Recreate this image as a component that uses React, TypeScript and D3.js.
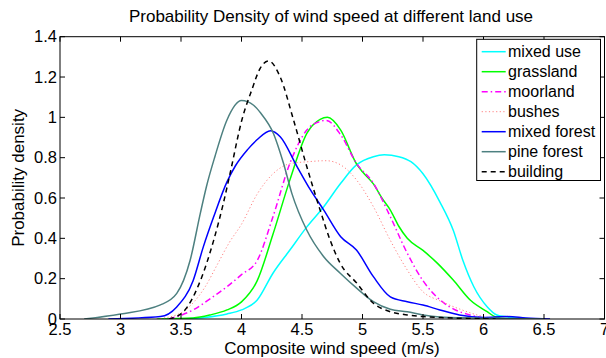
import React from "react";
import * as d3 from "d3";

const titleText = "Probability Density of wind speed at different land use";
const xLabel = "Composite wind speed (m/s)";
const yLabel = "Probability density";
const xTicks = [2.5, 3, 3.5, 4, 4.5, 5, 5.5, 6, 6.5, 7];
const yTicks = [0, 0.2, 0.4, 0.6, 0.8, 1, 1.2, 1.4];

const mixedUseX = [3.5, 3.7, 3.88, 4.0, 4.13, 4.26, 4.4, 4.54, 4.68, 4.82, 4.95, 5.09, 5.18, 5.3, 5.4, 5.5, 5.64, 5.75, 5.83, 5.92, 6.03, 6.11, 6.2, 6.4];
const mixedUseY = [0, 0.008, 0.025, 0.045, 0.094, 0.227, 0.342, 0.457, 0.557, 0.673, 0.764, 0.805, 0.814, 0.805, 0.78, 0.72, 0.58, 0.44, 0.29, 0.16, 0.061, 0.02, 0.01, 0];

const grasslandX = [3.3, 3.6, 3.74, 3.88, 4.0, 4.13, 4.26, 4.4, 4.54, 4.65, 4.71, 4.82, 4.95, 5.0, 5.09, 5.16, 5.23, 5.3, 5.37, 5.5, 5.62, 5.75, 5.89, 6.03, 6.1, 6.2];
const grasslandY = [0, 0.005, 0.02, 0.045, 0.085, 0.19, 0.42, 0.69, 0.92, 0.99, 1.0, 0.937, 0.77, 0.73, 0.67, 0.6, 0.54, 0.46, 0.4, 0.34, 0.276, 0.193, 0.094, 0.036, 0.01, 0];

const moorlandX = [3.4, 3.6, 3.74, 3.88, 4.0, 4.13, 4.26, 4.4, 4.54, 4.65, 4.7, 4.82, 4.95, 5.09, 5.23, 5.37, 5.5, 5.64, 5.75, 5.89, 6.05];
const moorlandY = [0, 0.045, 0.1, 0.16, 0.22, 0.29, 0.507, 0.772, 0.937, 0.98, 0.985, 0.913, 0.772, 0.673, 0.507, 0.326, 0.19, 0.095, 0.05, 0.02, 0];

const bushesX = [3.3, 3.5, 3.6, 3.7, 3.8, 3.9, 4.0, 4.13, 4.26, 4.4, 4.55, 4.7, 4.82, 4.95, 5.09, 5.23, 5.37, 5.5, 5.64, 5.8, 6.0, 6.15];
const bushesY = [0, 0.03, 0.08, 0.16, 0.27, 0.38, 0.47, 0.62, 0.72, 0.77, 0.78, 0.785, 0.764, 0.69, 0.557, 0.39, 0.243, 0.135, 0.09, 0.05, 0.012, 0];

const mixedForestX = [2.9, 3.33, 3.465, 3.6, 3.685, 3.77, 3.88, 3.95, 4.05, 4.13, 4.24, 4.32, 4.46, 4.57, 4.68, 4.82, 4.95, 5.09, 5.23, 5.37, 5.5, 5.64, 5.8, 6.0, 6.2, 6.35, 6.55];
const mixedForestY = [0, 0.012, 0.06, 0.19, 0.359, 0.507, 0.68, 0.76, 0.84, 0.89, 0.934, 0.904, 0.755, 0.64, 0.54, 0.408, 0.342, 0.21, 0.11, 0.086, 0.069, 0.045, 0.02, 0.008, 0.012, 0.005, 0];

const pineForestX = [2.7, 3.0, 3.33, 3.465, 3.575, 3.66, 3.71, 3.78, 3.88, 4.0, 4.1, 4.16, 4.264, 4.347, 4.416, 4.54, 4.678, 4.816, 4.954, 5.09, 5.23, 5.37, 5.5, 5.64, 5.9, 6.2, 6.5];
const pineForestY = [0, 0.025, 0.07, 0.127, 0.29, 0.525, 0.656, 0.805, 0.987, 1.083, 1.06, 1.02, 0.92, 0.772, 0.623, 0.44, 0.31, 0.227, 0.152, 0.086, 0.048, 0.036, 0.02, 0.01, 0.005, 0.003, 0];

const buildingX = [3.4, 3.52, 3.66, 3.77, 3.85, 3.906, 4.003, 4.085, 4.154, 4.223, 4.32, 4.43, 4.54, 4.65, 4.733, 4.816, 4.954, 5.09, 5.23, 5.37, 5.5, 5.7, 6.1];
const buildingY = [0, 0.036, 0.19, 0.39, 0.574, 0.723, 0.987, 1.136, 1.243, 1.28, 1.2, 0.987, 0.755, 0.54, 0.39, 0.276, 0.177, 0.078, 0.036, 0.02, 0.012, 0.006, 0];

const seriesNames = ["mixed use", "grassland", "moorland", "bushes", "mixed forest", "pine forest", "building"];

export default function App() {
  const W = 606, H = 358;
  const m = { left: 60, right: 604.5, top: 36.7, bottom: 319 };
  const x = d3.scaleLinear().domain([2.5, 7]).range([m.left, m.right]);
  const y = d3.scaleLinear().domain([0, 1.4]).range([m.bottom, m.top]);
  const font = "'Liberation Sans', Arial, Helvetica, sans-serif";
  const fs = 17;
  const tfs = 16.5;

  const series = [
    { name: seriesNames[0], xs: mixedUseX, ys: mixedUseY, color: "#00ffff", dash: undefined, w: 1.5 },
    { name: seriesNames[1], xs: grasslandX, ys: grasslandY, color: "#00ff00", dash: undefined, w: 1.5 },
    { name: seriesNames[2], xs: moorlandX, ys: moorlandY, color: "#ff00ff", dash: "6,3,1.5,3", w: 1.5 },
    { name: seriesNames[3], xs: bushesX, ys: bushesY, color: "#ff8080", dash: "1.2,2.4", w: 1 },
    { name: seriesNames[4], xs: mixedForestX, ys: mixedForestY, color: "#0000ff", dash: undefined, w: 1.5 },
    { name: seriesNames[5], xs: pineForestX, ys: pineForestY, color: "#4d8080", dash: undefined, w: 1.5 },
    { name: seriesNames[6], xs: buildingX, ys: buildingY, color: "#000000", dash: "5,4", w: 1.5 },
  ];

  const line = d3
    .line<[number, number]>()
    .x((d) => x(d[0]))
    .y((d) => y(d[1]))
    .curve(d3.curveMonotoneX);

  const tl = 5;
  const legX = 476.7, legY = 39.3, legW = 123.8, legH = 141.2;

  return (
    <svg width={W} height={H} style={{ position: "absolute", left: 0, top: 0, background: "#fff" }} fontFamily={font}>
      <rect x={0} y={0} width={W} height={H} fill="#fff" />
      <defs>
        <clipPath id="plotclip">
          <rect x={m.left} y={m.top} width={m.right - m.left} height={m.bottom - m.top} />
        </clipPath>
      </defs>
      <g clipPath="url(#plotclip)">
        {series.map((s) => (
          <path
            key={s.name}
            d={line(s.xs.map((v, i) => [v, s.ys[i]] as [number, number])) || ""}
            fill="none"
            stroke={s.color}
            strokeWidth={s.w}
            strokeDasharray={s.dash}
          />
        ))}
      </g>
      <rect x={m.left} y={m.top} width={m.right - m.left} height={m.bottom - m.top} fill="none" stroke="#000" strokeWidth={1} />
      {xTicks.map((t) => (
        <g key={"x" + t}>
          <line x1={x(t)} x2={x(t)} y1={m.bottom} y2={m.bottom - tl} stroke="#000" />
          <line x1={x(t)} x2={x(t)} y1={m.top} y2={m.top + tl} stroke="#000" />
          <text x={x(t)} y={m.bottom + 16} textAnchor="middle" fontSize={tfs}>
            {String(t)}
          </text>
        </g>
      ))}
      {yTicks.map((t) => (
        <g key={"y" + t}>
          <line x1={m.left} x2={m.left + tl} y1={y(t)} y2={y(t)} stroke="#000" />
          <line x1={m.right} x2={m.right - tl} y1={y(t)} y2={y(t)} stroke="#000" />
          <text x={m.left - 3} y={y(t)} dy="0.35em" textAnchor="end" fontSize={tfs}>
            {String(t)}
          </text>
        </g>
      ))}
      <text x={332} y={353.5} textAnchor="middle" fontSize={fs}>
        {xLabel}
      </text>
      <text
        transform={`translate(24,${(m.top + m.bottom) / 2}) rotate(-90)`}
        textAnchor="middle"
        fontSize={fs}
      >
        {yLabel}
      </text>
      <text x={331} y={22} textAnchor="middle" fontSize={fs}>
        {titleText}
      </text>
      <rect x={legX} y={legY} width={legW} height={legH} fill="#fff" stroke="#000" strokeWidth={1} />
      {series.map((s, i) => (
        <g key={"l" + s.name}>
          <line
            x1={481.7}
            x2={505.7}
            y1={51.7 + 20 * i}
            y2={51.7 + 20 * i}
            stroke={s.color}
            strokeWidth={s.w}
            strokeDasharray={s.dash}
          />
          <text x={508} y={51.7 + 20 * i} dy="0.35em" fontSize={16}>
            {s.name}
          </text>
        </g>
      ))}
    </svg>
  );
}
